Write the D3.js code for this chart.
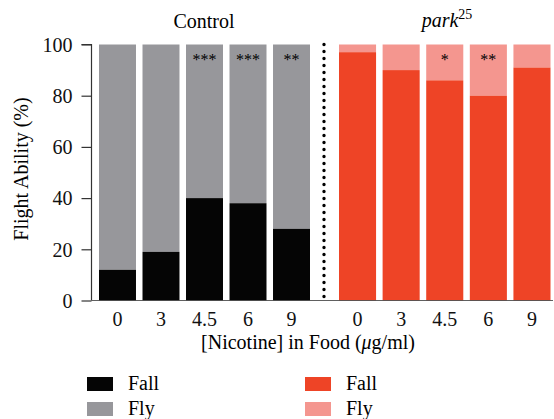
<!DOCTYPE html>
<html>
<head>
<meta charset="utf-8">
<script src="https://cdn.jsdelivr.net/npm/d3@7"></script>
<style>
body { margin: 0; background: #fff; }
</style>
</head>
<body>
<svg id="chart"></svg>
<script>
var w = 554, h = 419;
var f = "'Liberation Serif'";

// data
var doses = ["0", "3", "4.5", "6", "9"];
var controlFall = [12, 19, 40, 38, 28];
var parkFall = [97, 90, 86, 80, 91];
var controlStars = ["", "", "***", "***", "**"];
var parkStars = ["", "", "*", "**", ""];
var yTicks = [0, 20, 40, 60, 80, 100];

var colors = {
  ctrlFall: "#050505", ctrlFly: "#97979b",
  parkFall: "#ee4426", parkFly: "#f4968f"
};

var svg = d3.select("#chart")
  .attr("width", w)
  .attr("height", h);

var y = d3.scaleLinear().domain([0, 100]).range([300.5, 44.5]);

var xCtrl = d3.scaleBand().domain(doses).range([99, 310]).paddingInner(0.15).paddingOuter(0);
var xPark = d3.scaleBand().domain(doses).range([339, 550.5]).paddingInner(0.15).paddingOuter(0);

// group titles
svg.append("text")
  .attr("x", 204).attr("y", 28)
  .attr("text-anchor", "middle")
  .attr("font-family", f)
  .attr("font-size", 20)
  .text("Control");

var pt = svg.append("text")
  .attr("x", 447).attr("y", 27)
  .attr("text-anchor", "middle")
  .attr("font-family", f)
  .attr("font-size", 20);
pt.append("tspan").attr("font-style", "italic").text("park");
pt.append("tspan").attr("dy", -8).attr("font-size", 14).text("25");

function drawGroup(x, fall, stars, cFall, cFly) {
  var g = svg.append("g");
  // fly part (top)
  g.selectAll("rect.fly")
    .data(fall)
    .enter()
    .append("rect")
    .attr("class", "fly")
    .attr("x", function(d, i) { return x(doses[i]); })
    .attr("width", x.bandwidth())
    .attr("y", y(100))
    .attr("height", function(d) { return y(d) - y(100); })
    .attr("fill", cFly);
  // fall part (bottom)
  g.selectAll("rect.fall")
    .data(fall)
    .enter()
    .append("rect")
    .attr("class", "fall")
    .attr("x", function(d, i) { return x(doses[i]); })
    .attr("width", x.bandwidth())
    .attr("y", function(d) { return y(d); })
    .attr("height", function(d) { return y(0) - y(d); })
    .attr("fill", cFall);
  // significance stars (only where there is a mark)
  var starData = stars
    .map(function(s, i) { return {s: s, dose: doses[i]}; })
    .filter(function(d) { return d.s !== ""; });
  g.selectAll("text.star")
    .data(starData)
    .enter()
    .append("text")
    .attr("class", "star")
    .attr("x", function(d) { return x(d.dose) + x.bandwidth() / 2; })
    .attr("y", 65)
    .attr("text-anchor", "middle")
    .attr("font-family", f)
    .attr("font-size", 16)
    .text(function(d) { return d.s; });
  // dose labels
  var ax = svg.append("g")
    .attr("transform", "translate(0," + y(0) + ")")
    .call(d3.axisBottom(x).tickSize(0).tickPadding(0));
  ax.attr("font-family", null).attr("font-size", null);
  ax.select(".domain").remove();
  ax.selectAll("text")
    .attr("dy", null)
    .attr("y", 25.5)
    .attr("font-family", f)
    .attr("font-size", 20)
    .attr("fill", "#111");
}

drawGroup(xCtrl, controlFall, controlStars, colors.ctrlFall, colors.ctrlFly);
drawGroup(xPark, parkFall, parkStars, colors.parkFall, colors.parkFly);

// y axis
var yAxis = svg.append("g")
  .attr("transform", "translate(91.5,0)")
  .call(d3.axisLeft(y).tickValues(yTicks).tickSize(10).tickPadding(9));
yAxis.attr("font-family", null).attr("font-size", null);
yAxis.select(".domain").attr("stroke", "#333").attr("stroke-width", 1.2)
  .attr("d", "M-10," + y(100) + "H0V" + y(0));
yAxis.selectAll(".tick line").attr("stroke", "#333").attr("stroke-width", 1.2);
yAxis.selectAll("text")
  .attr("fill", "#111")
  .attr("font-family", f)
  .attr("font-size", 20)
  .attr("dy", "0.34em");

// x baseline
svg.append("line")
  .attr("x1", 91.5).attr("x2", 553)
  .attr("y1", y(0)).attr("y2", y(0))
  .attr("stroke", "#444").attr("stroke-width", 1.2)
  .attr("stroke-opacity", 0.85);

// dotted separator
svg.append("line")
  .attr("x1", 324).attr("x2", 324)
  .attr("y1", y(100)).attr("y2", y(0) - 1)
  .attr("stroke", "#000")
  .attr("stroke-width", 3.4)
  .attr("stroke-linecap", "round")
  .attr("stroke-dasharray", "0,7");

// axis titles
var xt = svg.append("text")
  .attr("x", 308).attr("y", 349)
  .attr("text-anchor", "middle")
  .attr("font-family", f)
  .attr("font-size", 20);
xt.append("tspan").text("[Nicotine] in Food (");
xt.append("tspan").attr("font-style", "italic").text("\u03bc");
xt.append("tspan").text("g/ml)");

svg.append("text")
  .attr("transform", "translate(28,169) rotate(-90)")
  .attr("text-anchor", "middle")
  .attr("font-family", f)
  .attr("font-size", 20)
  .text("Flight Ability (%)");

// legend
var legendData = [
  {x: 87, y: 377, c: colors.ctrlFall, t: "Fall"},
  {x: 87, y: 402, c: colors.ctrlFly, t: "Fly"},
  {x: 305, y: 377, c: colors.parkFall, t: "Fall"},
  {x: 305, y: 402, c: colors.parkFly, t: "Fly"}
];
var legend = svg.append("g");
legend.selectAll("rect")
  .data(legendData)
  .enter()
  .append("rect")
  .attr("x", function(d) { return d.x; })
  .attr("y", function(d) { return d.y; })
  .attr("width", 26)
  .attr("height", 14)
  .attr("fill", function(d) { return d.c; });
legend.selectAll("text")
  .data(legendData)
  .enter()
  .append("text")
  .attr("x", function(d) { return d.x + 41; })
  .attr("y", function(d) { return d.y + 13; })
  .attr("font-family", f)
  .attr("font-size", 20)
  .text(function(d) { return d.t; });
</script>
</body>
</html>
